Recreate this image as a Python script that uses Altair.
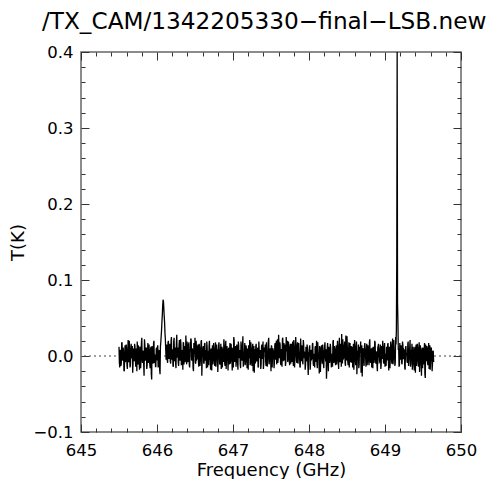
import altair as alt
import pandas as pd

# Spectrum: two interleaved channel sets (mK)
freq_start = 645.50
freq_step = 0.01
T_even_mK = [
    12, -15, 8, -10, 18, -6, 3, -20, 14, -4, 9, -17, 21, -8, 5, -12, 16, -3, -22, 10,
    -7, 13, -14, 6, 19, -11, 2, -18, 11, -5, 24, -9, 7, -26, 15, -2, 10, -13, 17, -6,
    4, -16, 12, -31, 8, -10, 20, -4, -14, 9,
    -6, 14, -12, 8, -24, 18, 34, 54, 74, 62, 44, 22, -5, 15, -9, 20,
    -3, 16, -10, 25, 4, -13, 19, -7, 11, -16, 28, 0, -9, 14, -5, 22, -12, 8, -18, 17,
    6, -8, 27, -11, 13, -4, 18, -15, 9, 21, -6, 3, -20, 12, 24, -10, 7, -3, 15, -14,
    10, -7, 19, -26, 5, 13, -9, 17, -2, -16, 11, 4, -12, 20, -5, 8, -19, 14, -1, 9,
    -13, 18, -6, 2, -21, 12, 7, -10, 16, -4, -15, 10, 22, -8, 4, -17, 13, -2, 9, -11,
    17, -5, 6, -19, 11, 25, -7, 3, -14, 15, -9, 19, -3, 8, -16, 12, -6, 26, -10, 4,
    -12, 14, -1, 10, -18, 7, 21, -9, 5, -13, 16, -4, -22, 9, 13, -7, 2, -15, 19, -3,
    8, -11, 15, 0, -17, 11, 6, -8, 18, -14, 3, 24, -6, 10, -20, 12, -2, 7, -16, 14,
    -5, 20, 4, -9, 28, -3, 15, -12, 9, 22, -7, 17, -1, -13, 25, 6, -8, 19, -4, 11,
    -10, 16, 3, -6, 21, -15, 8, 13, -9, 18, -2, 5, -14, 23, -7, 10, -11, 15, 1, -18,
    12, -6, 9, -25, 4, 14, -10, 7, -3, 17, -13, 2, 11, -8, 20, -16, 6, -4, 13, -21,
    8, -2, 15, -11, 5, 18, -7, -30, 10, -3, 12, -9, 16, -5, 3, -14, 21, -8, 7, -12,
    14, -4, 9, -17, 24, -6, 11, 29, -10, 6, -2, 19, -13, 8, 26, -7, 3, -15, 17, -1,
    -9, 12, 5, -18, 21, -6, 10, -24, 7, 15, -11, 4, 19, -3, -27, 9, -8, 13, 2, -14,
    16, -5, 7, -12, 22, -9, 4, 11, -16, 8, -3, 18, -10, 6, -20, 13, 0, -7, 15, -11,
    5, 20, -8, 9, -14, 3, 12, -6, 17, -19, 7, -2, 14, -10, 23, -4, 8, -13,
    25, 35, 400, 45, 10,
    -12, 6, 14, -9, 19, -4, 8, -16, 11, 2, -7, 16, -13, 5, 21, -10, 3, -18, 12, -6,
    9, -22, 15, -3, 7, -14, 18, -8, 4, -26, 11, 6, -11, 17, -29, 2, 13, -9, 8, -17,
    14, -5, 10, -20, 6, -8,
]
T_odd_mK = [
    -9, 6, -13, 17, -2, 11, -19, 5, -8, 15, -12, 3, -6, 20, -15, 9, -1, 13, -10, 7,
    16, -4, 10, -20, 3, 14, -8, 12, -16, 18, -3, 6, -12, 22, -6, 11, -17, 4, -9, 15,
    -11, 8, -23, 13, -5, 17, -9, 2, -14, 11,
    10, -15, 5, -18, 12, 26, 45, 66, 72, 52, 30, 8, 12, -6, 18, -3,
    12, -7, 20, -5, 9, -14, 24, 3, -10, 16, -2, 11, -13, 21, -6, 15, -9, 4, 18, -11,
    13, -3, 9, 19, -8, 14, -12, 6, 23, -5, 10, -16, 17, 2, -9, 20, -4, 12, -7, 16,
    -13, 5, 21, -2, 11, -10, 16, -6, 8, 19, -15, 7, 13, -4, -18, 10, 3, -11, 17, -7,
    6, -14, 15, 9, -6, 18, -11, 4, -17, 12, 1, -8, 14, -13, 20, -2, 7, -19, 11, 5,
    -10, 16, -4, 9, -15, 21, -7, 13, -3, 8, -18, 14, 6, -11, 19, -5, 10, -14, 3, 17,
    -8, 11, -16, 5, 14, -3, -12, 18, -7, 9, -20, 13, 2, -10, 16, -5, 11, -14, 7, 1,
    -17, 12, -4, 19, -9, 6, 15, -13, 3, -7, 20, -11, 8, -2, 14, -15, 10, 4, -9, 17,
    9, -11, 22, -3, 13, 18, -8, 6, -14, 24, 1, -6, 15, -9, 11, 20, -4, 8, -12, 16,
    3, -8, 19, -13, 10, -2, 25, -6, 12, -10, 17, 4, -15, 9, 14, -7, 21, -3, 6, -11,
    -7, 15, -12, 5, 11, -18, 8, -4, 16, -9, 2, -15, 13, 6, -11, 18, -3, -23, 10, -5,
    14, -10, 4, -16, 12, -2, 9, -13, 17, -20, 7, -6, 11, -15, 2, 19, -9, 13, -4, 8,
    -11, 20, -5, 12, -8, 16, -14, 6, 22, -3, 14, -9, 27, -6, 10, -12, 18, 4, -8, 13,
    7, -15, 16, -4, 11, -12, 19, -7, 3, -16, 12, 8, -22, 14, -5, 10, -13, 17, -2, 9,
    -12, 14, -6, 18, -3, 10, -15, 7, 12, -9, 20, -5, 4, -13, 11, 16, -8, 9, -17, 13,
    -4, 11, -10, 17, 2, -13, 8, 15, -7, 12, -16, 19, -3, 9, -11, 21, 6, -9, 15,
    130, 70,
    8, -14, 17, -5, 10, -11, 15, -2, 7, -18, 13, 4, -9, 19, -6, 11, -14, 8, 16, -10,
    3, -19, 12, 7, -13, 16, -6, 10, -21, 14, -3, 8, -16, 11, 5, -24, 15, -7, 9, -12,
    17, -4, -18, 11, 3, -10, 7,
]

x_major = [645, 646, 647, 648, 649, 650]
x_minor = [645.2, 645.4, 645.6, 645.8, 646.2, 646.4, 646.6, 646.8,
           647.2, 647.4, 647.6, 647.8, 648.2, 648.4, 648.6, 648.8,
           649.2, 649.4, 649.6, 649.8]
y_major = [-0.1, 0.0, 0.1, 0.2, 0.3, 0.4]
y_minor = [-0.08, -0.06, -0.04, -0.02, 0.02, 0.04, 0.06, 0.08,
           0.12, 0.14, 0.16, 0.18, 0.22, 0.24, 0.26, 0.28,
           0.32, 0.34, 0.36, 0.38]
zero_level = [0.0]

title_text = "/TX_CAM/1342205330\u2212final\u2212LSB.new"

rows = []
for i, v in enumerate(T_even_mK):
    rows.append((round(freq_start + i * freq_step, 4), v / 1000.0))
for i, v in enumerate(T_odd_mK):
    rows.append((round(freq_start + (i + 0.5) * freq_step, 4), v / 1000.0))
rows.sort()
df = pd.DataFrame(rows, columns=["freq", "T"])
df_major = pd.DataFrame({"x": x_major, "y": y_major})
df_minor = pd.DataFrame({"x": x_minor, "y": y_minor})
df_zero = pd.DataFrame({"y": zero_level})

xscale = alt.Scale(domain=[645, 650], nice=False, zero=False)
yscale = alt.Scale(domain=[-0.1, 0.4], nice=False, zero=False)

FONT = "DejaVu Sans"


def tick_axis(orient, values, size):
    return alt.Axis(orient=orient, values=values, labels=False, domain=False,
                    grid=False, title=None, ticks=True, tickSize=size,
                    offset=-size, tickColor="#333333", tickWidth=1)


line = alt.Chart(df).mark_line(color="black", strokeWidth=1.3, clip=True).encode(
    x=alt.X("freq:Q", scale=xscale,
            axis=alt.Axis(orient="bottom", values=x_major, format="d", ticks=False,
                          domain=False, grid=False, labelPadding=10, labelFlush=False,
                          labelOverlap=False, labelFontSize=16.5,
                          title="Frequency (GHz)", titlePadding=3, titleFontSize=18)),
    y=alt.Y("T:Q", scale=yscale,
            axis=alt.Axis(orient="left", values=y_major, format=".1f", ticks=False,
                          domain=False, grid=False, labelPadding=8, labelFlush=False,
                          labelOverlap=False, labelFontSize=16.5,
                          title="T(K)", titlePadding=5, titleFontSize=18)),
)

zero = alt.Chart(df_zero).mark_rule(color="#444444", strokeWidth=1,
                                    strokeDash=[2, 3]).encode(
    y=alt.Y("y:Q", scale=yscale, axis=None)
)


def tick_layer(data, xo, yo, size):
    xv = list(data["x"])
    yv = list(data["y"])
    return alt.Chart(data).mark_point(opacity=0).encode(
        x=alt.X("x:Q", scale=xscale, axis=tick_axis(xo, xv, size)),
        y=alt.Y("y:Q", scale=yscale, axis=tick_axis(yo, yv, size)),
    )


chart = alt.layer(
    zero,
    line,
    tick_layer(df_major, "bottom", "left", 8),
    tick_layer(df_minor, "bottom", "left", 4),
    tick_layer(df_major, "top", "right", 8),
    tick_layer(df_minor, "top", "right", 4),
).resolve_axis(x="independent", y="independent").properties(
    width=380,
    height=380,
    title=alt.Title(title_text, anchor="start", frame="group", dx=-39, fontSize=23.2,
                    font=FONT, fontWeight="normal", color="black", offset=10),
    autosize=alt.AutoSizeParams(type="none"),
    padding={"left": 73, "top": 44, "right": 31, "bottom": 47},
).configure_view(
    stroke="#666666", strokeWidth=1.5
).configure_axis(
    labelFont=FONT, labelColor="black",
    titleFont=FONT, titleFontWeight="normal", titleColor="black",
)

chart.save("out.html", embed_options={"renderer": "svg", "actions": False})
